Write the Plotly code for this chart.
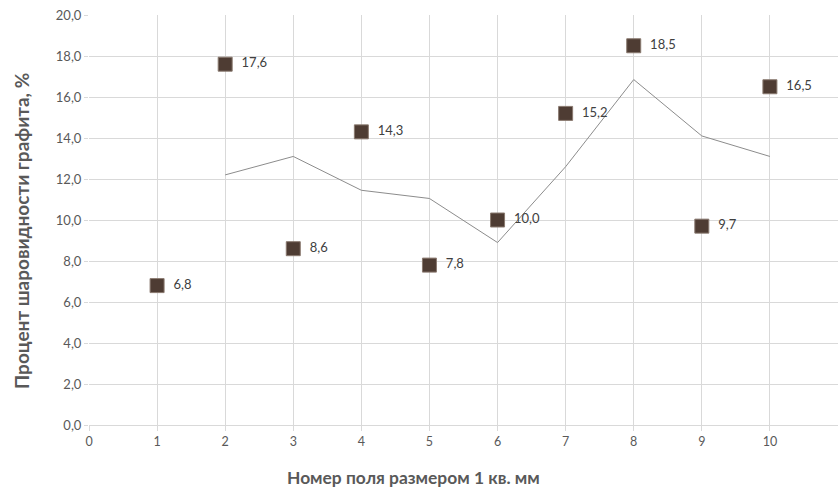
import plotly.graph_objects as go

fields = [1, 2, 3, 4, 5, 6, 7, 8, 9, 10]
sphericity = [6.8, 17.6, 8.6, 14.3, 7.8, 10.0, 15.2, 18.5, 9.7, 16.5]
labels = ["6,8", "17,6", "8,6", "14,3", "7,8", "10,0", "15,2", "18,5", "9,7", "16,5"]

trend_x = [2, 3, 4, 5, 6, 7, 8, 9, 10]
trend_y = [12.2, 13.1, 11.45, 11.05, 8.9, 12.6, 16.85, 14.1, 13.1]

x_ticks = [0, 1, 2, 3, 4, 5, 6, 7, 8, 9, 10, 11]

FONT = "Lato, Open Sans, sans-serif"

fig = go.Figure()
fig.add_trace(go.Scatter(
    x=trend_x, y=trend_y, mode="lines",
    line=dict(color="#8c8c8c", width=1), hoverinfo="skip", showlegend=False))
fig.add_trace(go.Scatter(
    x=fields, y=sphericity, mode="markers+text",
    text=["  " + t for t in labels], textposition="middle right",
    textfont=dict(family=FONT, size=13, color="#404040"),
    marker=dict(symbol="square", size=14, color="#4e3c33",
                line=dict(color="#8a7a70", width=1)),
    showlegend=False))

fig.update_layout(
    width=838, height=495,
    margin=dict(l=89, r=0, t=15, b=70),
    paper_bgcolor="white", plot_bgcolor="white",
    separators=", ",
    font=dict(family=FONT, color="#595959"),
    annotations=[
        dict(text="<b>Номер поля размером 1 кв. мм</b>", xref="paper", yref="paper",
             x=0.433, y=-0.129, yanchor="middle", xanchor="center", showarrow=False,
             font=dict(family=FONT, size=17.4, color="#595959")),
        dict(text="<b>Процент шаровидности графита, %</b>", xref="paper", yref="paper",
             x=-0.091, y=0.473, xanchor="center", yanchor="middle", textangle=-90,
             showarrow=False, font=dict(family=FONT, size=19, color="#595959")),
    ],
)
fig.update_xaxes(
    range=[0, 11], tickvals=x_ticks, ticktext=[str(v) for v in x_ticks],
    automargin=False,
    showgrid=True, gridcolor="#d9d9d9", gridwidth=1,
    zeroline=False, showline=True, linecolor="#d9d9d9",
    ticks="outside", ticklen=5, tickcolor="#d9d9d9",
    tickfont=dict(size=12.5, color="#595959"),
)
fig.update_yaxes(
    range=[0, 20], dtick=2, tickformat=".1f",
    automargin=False,
    showgrid=True, gridcolor="#d9d9d9", gridwidth=1,
    zeroline=False, showline=False,
    ticks="outside", ticklen=4, tickcolor="#d9d9d9",
    tickfont=dict(size=13, color="#595959"),
)

# remove the default 8px page margin so the figure fills the window exactly
fig.write_html("out.html", config={"displayModeBar": False},
               post_script="document.body.style.margin='0';")
